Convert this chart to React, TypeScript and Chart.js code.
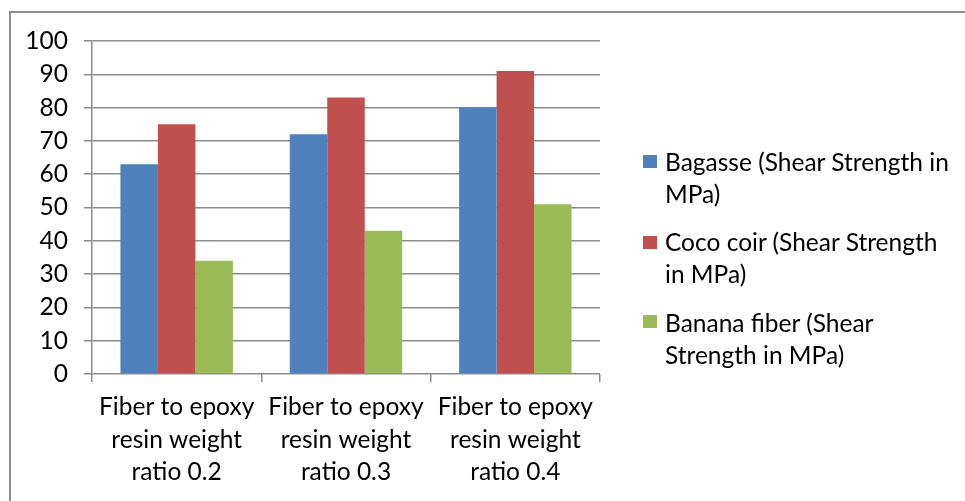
import React, { useEffect, useRef } from "react";
import { Chart, registerables } from "chart.js";

Chart.register(...registerables);

const categories: string[][] = [
  ["Fiber to epoxy", "resin weight", "ratio 0.2"],
  ["Fiber to epoxy", "resin weight", "ratio 0.3"],
  ["Fiber to epoxy", "resin weight", "ratio 0.4"],
];
const seriesNames = [
  "Bagasse (Shear Strength in MPa)",
  "Coco coir (Shear Strength in MPa)",
  "Banana fiber (Shear Strength in MPa)",
];
const legendLines: string[][] = [
  ["Bagasse (Shear Strength in", "MPa)"],
  ["Coco coir (Shear Strength", "in MPa)"],
  ["Banana fiber (Shear", "Strength in MPa)"],
];
const bagasse = [63, 72, 80];
const cocoCoir = [75, 83, 91];
const bananaFiber = [34, 43, 51];
const seriesColors = ["#4F81BD", "#C0504D", "#9BBB59"];
const yMin = 0;
const yMax = 100;
const yStep = 10;

const FONT = "Lato, 'Open Sans', sans-serif";
const FONT_SIZE = 24.5;
const LINE_H = 32.5;
const GRID = "#8c8c8c";

export default function App() {
  const ref = useRef<HTMLCanvasElement | null>(null);

  useEffect(() => {
    document.body.style.margin = "0";
    const ctx = ref.current!;
    const values = [bagasse, cocoCoir, bananaFiber];
    const chart = new Chart(ctx, {
      type: "bar",
      data: {
        labels: categories,
        datasets: seriesNames.map((name, i) => ({
          label: name,
          data: values[i],
          backgroundColor: seriesColors[i],
          borderWidth: 0,
          categoryPercentage: 0.664,
          barPercentage: 1.0,
        })),
      },
      options: {
        animation: false,
        responsive: false,
        layout: { padding: { left: 0, top: 41, right: 365, bottom: 0 } },
        plugins: { legend: { display: false }, tooltip: { enabled: false } },
        scales: {
          x: {
            grid: {
              offset: true,
              drawOnChartArea: false,
              drawTicks: true,
              tickLength: 8,
              color: GRID,
              lineWidth: 1.5,
            },
            border: { display: false },
            ticks: {
              color: "#000",
              font: { family: FONT, size: FONT_SIZE, lineHeight: LINE_H / FONT_SIZE },
              padding: 9,
              maxRotation: 0,
              autoSkip: false,
            },
            afterFit: (s: any) => {
              s.height = 127;
            },
          },
          y: {
            min: yMin,
            max: yMax,
            ticks: {
              stepSize: yStep,
              color: "#000",
              font: { family: FONT, size: FONT_SIZE },
              padding: 16,
            },
            grid: { color: GRID, lineWidth: 1.5, tickLength: 8 },
            border: { color: GRID, width: 1.5 },
            afterFit: (s: any) => {
              s.width = 92;
            },
          },
        },
      },
    });
    return () => chart.destroy();
  }, []);

  const squareTops = [155, 236, 315];
  const textCenters = [162, 242, 323];

  return (
    <div
      style={{
        position: "relative",
        width: 965,
        height: 501,
        overflow: "hidden",
        background: "#fff",
        fontFamily: FONT,
      }}
    >
      <div
        style={{
          position: "absolute",
          left: 9,
          top: 11,
          width: 1000,
          height: 600,
          borderLeft: "2px solid #8e8e8e",
          borderTop: "2px solid #8e8e8e",
          boxSizing: "border-box",
        }}
      />
      <canvas ref={ref} width={965} height={501} style={{ position: "absolute", left: 0, top: 0 }} />
      {legendLines.map((lines, i) => (
        <React.Fragment key={i}>
          <div
            style={{
              position: "absolute",
              left: 643,
              top: squareTops[i],
              width: 14,
              height: 13,
              background: seriesColors[i],
            }}
          />
          <div
            style={{
              position: "absolute",
              left: 665,
              top: textCenters[i] - 16,
              fontSize: FONT_SIZE,
              lineHeight: "32px",
              color: "#000",
              whiteSpace: "nowrap",
            }}
          >
            {lines.map((l, j) => (
              <div key={j}>{l}</div>
            ))}
          </div>
        </React.Fragment>
      ))}
    </div>
  );
}
